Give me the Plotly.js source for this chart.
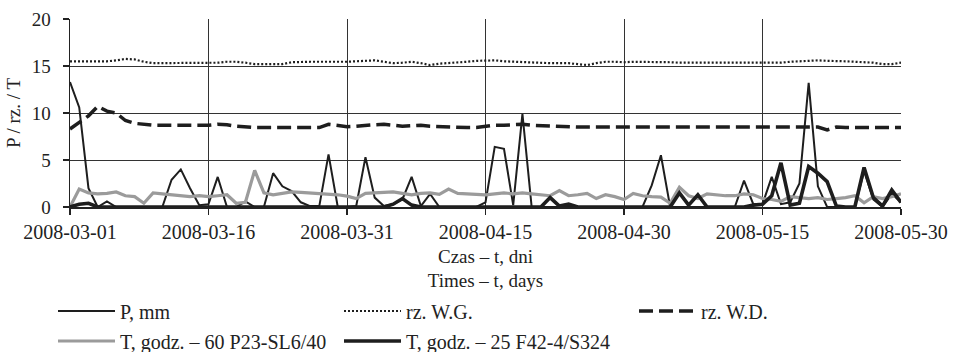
<!DOCTYPE html>
<html>
<head>
<meta charset="utf-8">
<script src="https://cdn.plot.ly/plotly-3.0.1.min.js"></script>
<style>html,body{margin:0;padding:0;background:#fff;}#chart{width:954px;height:352px;}</style>
</head>
<body>
<div id="chart"></div>
<script>
// ---- data (daily, 2008-03-01 .. 2008-05-30) ----
var startDate = '2008-03-01';
var nDays = 91;
var tickLabels = ['2008-03-01','2008-03-16','2008-03-31','2008-04-15','2008-04-30','2008-05-15','2008-05-30'];
var seriesNames = ['P, mm', 'rz. W.G.', 'rz. W.D.', 'T, godz. \u2013 60 P23-SL6/40', 'T, godz. \u2013 25 F42-4/S324'];

var P_mm = [13.3,10.6,2.0,0,0.6,0,0,0,0,0,
            0,2.9,4.0,2.0,0.2,0.3,3.2,0,0,0.6,
            0,0,3.6,2.2,1.7,0.5,0.1,0.1,5.6,0,
            0,0.1,5.3,1.0,0.1,0.3,0.8,3.2,0.1,1.4,
            0,0,0,0,0,0.5,6.4,6.2,0.2,9.9,
            0,0,0,0,0,0,0,0,0,0,
            0,0,0,2.3,5.5,0,0,0,0,0,
            0,0,0,2.8,0.3,0.3,3.2,0.3,0.5,2.5,
            13.2,2.2,0,0,0,0,3.8,0.8,0,1.4,
            0.5];
var rzWG = [15.5,15.5,15.5,15.5,15.5,15.6,15.75,15.7,15.45,15.3,
            15.3,15.3,15.3,15.3,15.3,15.3,15.35,15.45,15.45,15.35,
            15.2,15.2,15.2,15.2,15.4,15.45,15.45,15.45,15.45,15.4,
            15.45,15.5,15.55,15.6,15.45,15.3,15.35,15.45,15.3,15.1,
            15.25,15.3,15.35,15.45,15.55,15.6,15.6,15.5,15.45,15.4,
            15.35,15.35,15.3,15.3,15.3,15.2,15.1,15.3,15.45,15.45,
            15.4,15.45,15.45,15.4,15.4,15.4,15.35,15.35,15.3,15.3,
            15.3,15.3,15.3,15.3,15.3,15.3,15.3,15.35,15.45,15.5,
            15.6,15.6,15.55,15.55,15.5,15.45,15.4,15.35,15.2,15.2,
            15.35];
var rzWD = [8.3,9.0,9.7,10.7,10.2,10.0,9.2,8.9,8.8,8.7,
            8.7,8.7,8.7,8.7,8.7,8.7,8.8,8.75,8.6,8.5,
            8.45,8.45,8.45,8.45,8.45,8.45,8.45,8.45,8.8,8.65,
            8.55,8.6,8.7,8.75,8.8,8.7,8.6,8.65,8.7,8.6,
            8.55,8.5,8.5,8.45,8.45,8.6,8.7,8.7,8.75,8.8,
            8.7,8.65,8.6,8.55,8.55,8.5,8.5,8.5,8.5,8.5,
            8.5,8.5,8.5,8.5,8.5,8.5,8.5,8.5,8.5,8.5,
            8.5,8.5,8.5,8.5,8.5,8.5,8.5,8.5,8.5,8.5,
            8.5,8.5,8.2,8.5,8.45,8.45,8.45,8.45,8.45,8.45,
            8.45];
var T60 = [0,1.9,1.5,1.4,1.45,1.6,1.2,1.1,0.4,1.5,
           1.4,1.3,1.2,1.1,1.2,1.1,1.2,1.3,0.4,0.5,
           3.9,1.5,1.3,1.45,1.6,1.55,1.5,1.45,1.4,1.3,
           1.15,0.9,1.45,1.5,1.55,1.6,1.45,1.3,1.45,1.5,
           1.35,1.9,1.45,1.4,1.3,1.3,1.4,1.5,1.4,1.5,
           1.4,1.3,1.2,1.75,1.2,1.3,1.45,0.9,1.3,1.1,
           0.8,1.45,1.2,1.1,1.05,0.4,2.1,1.2,0.9,1.4,
           1.3,1.2,1.2,1.4,1.3,0.9,0.8,0.6,1.1,1.0,
           0.9,1.0,0.8,0.9,1.0,1.2,0.45,1.1,0.9,1.1,
           1.4];
var T25 = [0,0.3,0.4,0,0,0,0,0,0,0,
           0,0,0,0,0,0,0,0,0,0,
           0,0,0,0,0,0,0,0,0,0,
           0,0,0,0,0,0.3,0.9,0.2,0,0,
           0,0,0,0,0,0,0,0,0,0,
           0,0,1.0,0.1,0.3,0,0,0,0,0,
           0,0,0,0,0,0,1.5,0.2,1.3,0,
           0,0,0,0,0.2,0.3,1.2,4.7,0.2,0.4,
           4.3,3.6,2.7,0.1,0,0,4.2,1.0,0.1,1.8,
           0.5];

// build daily date axis
var dates = [];
(function(){
  var d0 = new Date(startDate + 'T00:00:00Z');
  for (var i = 0; i < nDays; i++) {
    var d = new Date(d0.getTime() + i * 86400000);
    dates.push(d.toISOString().slice(0,10));
  }
})();

var serif = 'Liberation Serif, Times New Roman, serif';
var ink = '#1e1e1e';

var traces = [
  {x: dates, y: P_mm, name: seriesNames[0], type: 'scatter', mode: 'lines',
   line: {color: ink, width: 2}, legend: 'legend'},
  {x: dates, y: rzWG, name: seriesNames[1], type: 'scatter', mode: 'lines',
   line: {color: ink, width: 2.2, dash: '2px,2px'}, legend: 'legend2'},
  {x: dates, y: rzWD, name: seriesNames[2], type: 'scatter', mode: 'lines',
   line: {color: ink, width: 3.5, dash: '14px,6px'}, legend: 'legend3'},
  {x: dates, y: T60, name: seriesNames[3], type: 'scatter', mode: 'lines',
   line: {color: '#9b9b9b', width: 3.2}, legend: 'legend4'},
  {x: dates, y: T25, name: seriesNames[4], type: 'scatter', mode: 'lines',
   line: {color: ink, width: 3.6}, legend: 'legend5'}
];

function leg(px, py) {
  return {
    orientation: 'h', xref: 'container', yref: 'container',
    x: px / 954, y: 1 - py / 352, xanchor: 'left', yanchor: 'middle',
    itemwidth: 57, borderwidth: 0,
    font: {family: serif, size: 20, color: '#222'}, bgcolor: 'rgba(0,0,0,0)'
  };
}

var layout = {
  width: 954, height: 352,
  margin: {l: 70, r: 53, t: 19, b: 145, pad: 0, autoexpand: false},
  paper_bgcolor: '#ffffff', plot_bgcolor: '#ffffff',
  font: {family: serif, size: 20, color: '#222'},
  showlegend: true,
  xaxis: {
    type: 'date',
    range: ['2008-03-01', '2008-05-30'],
    tickvals: tickLabels,
    ticktext: tickLabels,
    ticks: 'outside', ticklen: 6, tickwidth: 1.2, tickcolor: '#222',
    ticklabelstandoff: 0,
    showgrid: true, gridcolor: '#333', gridwidth: 1,
    showline: true, linecolor: '#222', linewidth: 1.5,
    zeroline: false,
    tickfont: {family: serif, size: 20, color: '#222'},
    title: {text: 'Czas \u2013 t, dni<br>Times \u2013 t, days', font: {family: serif, size: 19, color: '#222'}, standoff: 12}
  },
  yaxis: {
    range: [0, 20],
    tickvals: [0, 5, 10, 15, 20],
    ticks: 'outside', ticklen: 6, tickwidth: 1.2, tickcolor: '#222',
    ticklabelstandoff: 8,
    showgrid: true, gridcolor: '#333', gridwidth: 1,
    showline: true, linecolor: '#222', linewidth: 1.5,
    zeroline: false,
    tickfont: {family: serif, size: 19, color: '#222'},
    title: {text: 'P / rz. / T', font: {family: serif, size: 19, color: '#222'}, standoff: 6}
  },
  legend: leg(53, 311),
  legend2: leg(339, 311),
  legend3: leg(634, 311),
  legend4: leg(53, 341),
  legend5: leg(339, 341)
};

Plotly.newPlot('chart', traces, layout, {displayModeBar: false, staticPlot: true});
</script>
</body>
</html>
